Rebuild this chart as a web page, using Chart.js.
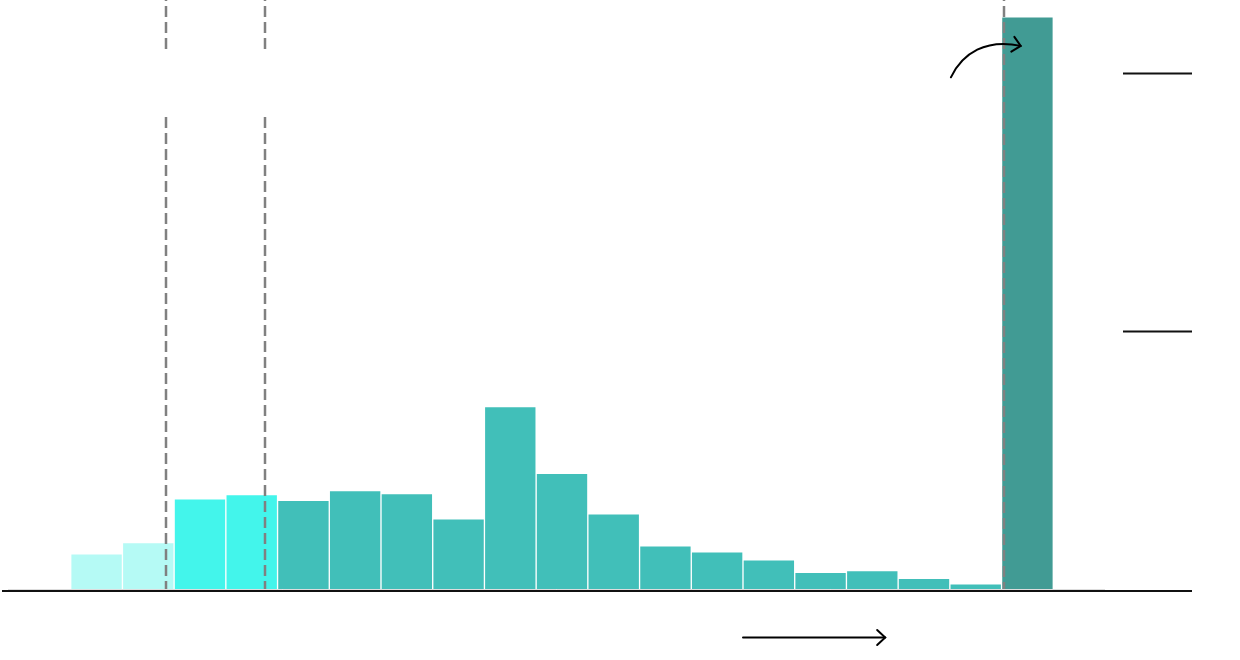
<!DOCTYPE html>
<html lang="en">
<head>
  <meta charset="UTF-8">
  <title>histogram</title>
  <script src="https://cdn.jsdelivr.net/npm/chart.js"></script>
  <style>
    html, body { margin: 0; padding: 0; background: #fff; }
    #wrap { width: 1240px; height: 660px; }
  </style>
</head>
<body>
  <div id="wrap"><canvas id="hist" width="1240" height="660"></canvas></div>
  <script>
    // bins (first and last are empty slots)
    const bins = ['b0', 'b1', 'b2', 'b3', 'b4', 'b5', 'b6', 'b7', 'b8', 'b9', 'b10',
                  'b11', 'b12', 'b13', 'b14', 'b15', 'b16', 'b17', 'b18', 'b19', 'b20'];
    const counts = [null, 13.6, 18.0, 35.0, 36.6, 34.4, 38.2, 37.0, 27.2, 70.8, 44.9,
                    29.2, 16.7, 14.4, 11.3, 6.5, 7.1, 4.1, 2.0, 222.0, null];
    const groups = ['none', 'low', 'low', 'mid', 'mid', 'main', 'main', 'main', 'main', 'main', 'main',
                    'main', 'main', 'main', 'main', 'main', 'main', 'main', 'main', 'top', 'none'];
    const yTicks = [0, 100, 200];
    const yMax = 228.5;

    // reference lines, in bin units
    const markers = [2.345, 4.26, 18.55];

    const groupColors = {
      none: 'rgba(0,0,0,0)',
      low: '#b5faf5',
      mid: '#43f5eb',
      main: '#41bfb9',
      top: '#419b94'
    };

    // decorations in data units [binIndex, value]
    const curveArrow = [[17.52, 198.5], [17.75, 208], [18.2, 213.5], [18.87, 210.7]];
    const flatArrow = [[13.5, -18.8], [16.25, -18.8]];

    function dashedV(ctx, x, y0, y1, offset) {
      ctx.save();
      ctx.strokeStyle = '#808080';
      ctx.lineWidth = 2.5;
      ctx.setLineDash([11, 5]);
      ctx.lineDashOffset = offset;
      ctx.beginPath();
      ctx.moveTo(x, y0);
      ctx.lineTo(x, y1);
      ctx.stroke();
      ctx.restore();
    }

    function chevron(ctx, tx, ty, angle) {
      const len = 11, spread = 0.75;
      ctx.beginPath();
      ctx.moveTo(tx - len * Math.cos(angle - spread), ty - len * Math.sin(angle - spread));
      ctx.lineTo(tx, ty);
      ctx.lineTo(tx - len * Math.cos(angle + spread), ty - len * Math.sin(angle + spread));
      ctx.stroke();
    }

    const decor = {
      id: 'decor',
      afterDatasetsDraw(chart) {
        const ctx = chart.ctx;
        const xs = chart.scales.x, ys = chart.scales.y;
        const zero = ys.getPixelForValue(0);
        const px = p => [xs.getPixelForValue(p[0]), ys.getPixelForValue(p[1])];

        // faint bar baseline and main axis line
        ctx.save();
        ctx.strokeStyle = '#dddddd';
        ctx.lineWidth = 1;
        ctx.beginPath();
        ctx.moveTo(8, zero + 0.5);
        ctx.lineTo(xs.getPixelForValue(20.5), zero + 0.5);
        ctx.stroke();
        ctx.strokeStyle = '#111111';
        ctx.lineWidth = 2;
        ctx.beginPath();
        ctx.moveTo(2, zero + 2);
        ctx.lineTo(1192, zero + 2);
        ctx.stroke();

        // tick marks on the right
        yTicks.forEach(t => {
          if (t === 0) return;
          const y = Math.round(ys.getPixelForValue(t)) + 0.5;
          ctx.beginPath();
          ctx.moveTo(1123, y);
          ctx.lineTo(1192, y);
          ctx.stroke();
        });
        ctx.restore();

        // dashed reference lines
        markers.forEach((m, i) => {
          const x = Math.round(xs.getPixelForValue(m));
          if (i < 2) {
            dashedV(ctx, x, 0, 49, 10);
            dashedV(ctx, x, 117, zero, 0);
          } else {
            dashedV(ctx, x, 0, zero, 10);
          }
        });

        // curved arrow towards the tall bar
        const c = curveArrow.map(px);
        ctx.save();
        ctx.strokeStyle = '#000';
        ctx.lineWidth = 2;
        ctx.lineCap = 'round';
        ctx.beginPath();
        ctx.moveTo(c[0][0], c[0][1]);
        ctx.bezierCurveTo(c[1][0], c[1][1], c[2][0], c[2][1], c[3][0], c[3][1]);
        ctx.stroke();
        chevron(ctx, c[3][0], c[3][1], Math.atan2(c[3][1] - c[2][1], c[3][0] - c[2][0]));

        // horizontal arrow below the axis
        const a = flatArrow.map(px);
        ctx.beginPath();
        ctx.moveTo(a[0][0], a[0][1]);
        ctx.lineTo(a[1][0], a[1][1]);
        ctx.stroke();
        chevron(ctx, a[1][0], a[1][1], 0);
        ctx.restore();
      }
    };

    new Chart(document.getElementById('hist'), {
      type: 'bar',
      data: {
        labels: bins,
        datasets: [{
          data: counts,
          backgroundColor: groups.map(g => groupColors[g]),
          borderColor: 'rgba(255,255,255,0.7)',
          borderWidth: 1,
          barPercentage: 1,
          categoryPercentage: 1
        }]
      },
      options: {
        responsive: false,
        animation: false,
        devicePixelRatio: 1,
        layout: { padding: { left: 19, right: 135, top: 0, bottom: 71 } },
        plugins: { legend: { display: false }, tooltip: { enabled: false } },
        scales: {
          x: { display: false },
          y: { display: false, min: 0, max: yMax }
        }
      },
      plugins: [decor]
    });
  </script>
</body>
</html>
